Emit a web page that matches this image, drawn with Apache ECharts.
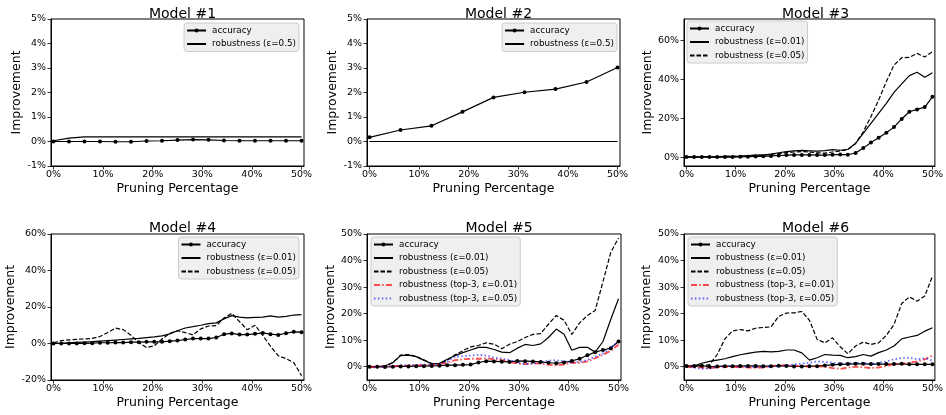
<!DOCTYPE html>
<html><head><meta charset="utf-8">
<script src="https://cdn.jsdelivr.net/npm/echarts@6/dist/echarts.min.js"></script>
<style>html,body{margin:0;padding:0;background:#fff}#c{width:946px;height:415px}</style>
</head><body><div id="c"></div>
<script>
// ---------- DATA ----------
const pct17 = [0,3.125,6.25,9.375,12.5,15.625,18.75,21.875,25,28.125,31.25,34.375,37.5,40.625,43.75,46.875,50];
const pct9 = [0,6.25,12.5,18.75,25,31.25,37.5,43.75,50];
const pct33 = [0,1.5625,3.125,4.6875,6.25,7.8125,9.375,10.9375,12.5,14.0625,15.625,17.1875,18.75,20.3125,21.875,23.4375,25,26.5625,28.125,29.6875,31.25,32.8125,34.375,35.9375,37.5,39.0625,40.625,42.1875,43.75,45.3125,46.875,48.4375,50];
const xTickValues = [0,10,20,30,40,50];

const m1Accuracy = [0,0,0,0,-0.01,-0.01,0.02,0.03,0.06,0.08,0.07,0.04,0.03,0.03,0.03,0.03,0.03];
const m1Robust05 = [0.03,0.14,0.19,0.19,0.19,0.19,0.19,0.19,0.19,0.19,0.19,0.19,0.19,0.19,0.19,0.19,0.19];

const m2Accuracy = [0.17,0.47,0.64,1.21,1.8,2.01,2.14,2.43,3.02];
const m2Robust05 = [0,0,0,0,0,0,0,0,0];

const m3Accuracy = [0,0,0,0,0,0,0,0.1,0.2,0.3,0.4,0.6,0.8,1.0,1.1,1.1,1.1,1.0,1.0,1.2,1.3,1.2,2.1,4.6,7.5,9.9,12.5,15.4,19.6,23.3,24.5,25.7,31.0];
const m3Robust001 = [0.1,0.1,0.2,0.2,0.2,0.3,0.3,0.5,0.8,1.0,1.0,1.5,2.2,2.8,3.2,3.4,3.2,3.0,3.3,3.8,3.5,4.0,7.0,12.2,17.3,22.5,27.6,33.3,37.6,41.9,43.6,41.0,43.4];
const m3Robust005 = [0.1,0.1,0.2,0.2,0.2,0.3,0.3,0.5,0.7,0.9,1.0,1.5,1.8,2.3,2.6,2.8,2.6,2.2,2.0,2.6,3.2,3.8,7.0,13.0,20.8,29.3,38.8,47.3,51.1,51.3,53.3,51.5,54.2];

const m4Accuracy = [0,0,0,0,0.1,0.2,0.4,0.4,0.5,0.5,0.7,0.7,0.9,0.9,0.9,1.3,1.6,2.2,2.7,2.7,2.7,3.3,5.1,5.5,4.9,4.9,5.3,5.8,5.1,4.7,5.6,6.4,6.2];
const m4Robust001 = [0,0.2,0.4,0.6,0.8,1.0,1.3,1.6,1.9,2.2,2.5,2.8,3.2,3.6,4.2,5.3,7.0,8.5,9.2,10.0,10.9,11.3,13.5,15.3,14.5,14.0,14.3,14.5,15.1,14.5,14.9,15.6,15.8];
const m4Robust005 = [0.3,1.6,2.0,2.3,2.5,2.8,3.8,6.0,8.4,7.6,4.5,0.5,-2.2,-1.3,2.5,5.5,7.0,6.0,4.7,8.0,9.6,9.8,14.0,16.5,12.0,7.5,10.0,4.5,-1.5,-6.7,-8.3,-10.5,-17.6];

const m5Accuracy = [0,0,-0.1,0,0.1,0.1,0.2,0.2,0.3,0.4,0.6,0.6,0.7,0.8,1.6,2.1,2.0,1.9,1.8,2.2,2.1,2.0,1.8,1.5,1.3,1.6,2.2,3.0,4.3,5.5,6.3,7.0,9.5];
const m5Robust001 = [0,0,0.3,1.5,4.2,4.4,3.8,2.4,1.1,1.3,2.8,4.2,5.3,6.3,7.3,7.3,6.5,5.5,5.3,7.0,8.4,8.0,8.6,11.0,14.2,12.2,6.2,7.3,7.3,5.5,9.5,17.8,25.6];
const m5Robust005 = [0,0,0.3,1.6,4.4,4.6,3.9,2.6,1.2,1.1,2.5,4.5,6.0,7.5,8.0,9.0,8.5,6.8,8.5,9.5,11.0,12.2,12.5,16.0,19.3,17.5,12.2,16.5,19.3,21.2,32.0,43.0,48.5];
const m5Top3001 = [0,0,0.1,0.2,0.3,0.4,0.5,0.6,0.7,1.0,1.5,2.5,2.8,3.0,3.0,3.2,2.8,2.5,1.8,1.2,1.0,1.3,1.2,0.8,0.5,0.8,1.5,1.5,2.0,3.2,4.5,6.0,8.3];
const m5Top3005 = [-0.2,-0.2,0,0.3,0.5,0.6,0.7,0.8,0.8,1.2,2.0,3.8,4.0,4.2,4.5,4.2,3.5,3.0,2.5,1.5,1.0,1.2,1.6,2.3,2.5,2.0,1.6,1.8,2.5,3.8,5.0,7.2,9.5];

const m6Accuracy = [0.3,0.3,0.4,0.0,0.1,0.2,0.2,0.3,0.3,0.3,0.2,0.2,0.4,0.3,0.1,0.1,0.2,0.2,0.5,0.7,0.9,1.0,1.1,1.1,1.0,1.0,1.0,1.0,1.1,0.9,0.9,0.9,0.9];
const m6Robust001 = [0,0.3,1.3,2.0,2.5,3.0,3.8,4.5,5.0,5.5,5.8,5.6,5.8,6.3,6.3,5.2,2.5,3.4,4.6,4.4,4.3,3.4,3.8,4.6,4.0,5.3,6.3,7.8,10.5,11.2,11.8,13.4,14.7];
const m6Robust005 = [0,0,0.2,0.8,4.6,10.5,13.5,14.0,13.5,14.5,14.8,15.0,19.0,20.2,20.3,20.8,17.5,10.3,9.0,10.9,7.5,4.9,7.8,9.3,8.4,9.0,11.8,15.9,23.8,26.3,24.7,26.6,34.1];
const m6Top3001 = [0,0,-0.3,-0.5,-0.2,0,0,-0.2,-0.3,-0.4,-0.3,0.2,0.5,0.5,0.3,0.2,0.1,0.2,0,-0.5,-0.8,-0.3,0,-0.2,-0.5,-0.3,0.3,1.0,1.2,1.5,2.0,2.8,4.2];
const m6Top3005 = [0,-0.3,-0.8,-0.6,0,0.2,0.2,0,-0.1,-0.2,0,0.1,0.2,0.5,0.8,1.2,1.5,2.0,1.8,1.5,1.2,1.3,1.5,1.4,1.0,1.5,2.0,2.8,3.3,3.4,2.8,3.2,2.3];

const titles = ['Model #1','Model #2','Model #3','Model #4','Model #5','Model #6'];
const yTicks = [[-1,0,1,2,3,4,5],[-1,0,1,2,3,4,5],[0,20,40,60],[-20,0,20,40,60],[0,10,20,30,40,50],[0,10,20,30,40,50]];
const yRanges = [[-1,5],[-1,5],[-4.6,71],[-20,60],[-5,50],[-5,50]];
const N_ACC = 'accuracy', N_R05 = 'robustness (ε=0.5)', N_R001 = 'robustness (ε=0.01)', N_R005 = 'robustness (ε=0.05)',
      N_T001 = 'robustness (top-3, ε=0.01)', N_T005 = 'robustness (top-3, ε=0.05)';

const panels = [
  {x: pct17, lines: [[N_ACC, m1Accuracy, 'acc'], [N_R05, m1Robust05, 'solid']]},
  {x: pct9,  lines: [[N_ACC, m2Accuracy, 'acc'], [N_R05, m2Robust05, 'solid']]},
  {x: pct33, lines: [[N_ACC, m3Accuracy, 'acc'], [N_R001, m3Robust001, 'solid'], [N_R005, m3Robust005, 'dashed']]},
  {x: pct33, lines: [[N_ACC, m4Accuracy, 'acc'], [N_R001, m4Robust001, 'solid'], [N_R005, m4Robust005, 'dashed']]},
  {x: pct33, lines: [[N_ACC, m5Accuracy, 'acc'], [N_R001, m5Robust001, 'solid'], [N_R005, m5Robust005, 'dashed'], [N_T001, m5Top3001, 'dashdot'], [N_T005, m5Top3005, 'dotted']]},
  {x: pct33, lines: [[N_ACC, m6Accuracy, 'acc'], [N_R001, m6Robust001, 'solid'], [N_R005, m6Robust005, 'dashed'], [N_T001, m6Top3001, 'dashdot'], [N_T005, m6Top3005, 'dotted']]}
];

// ---------- LAYOUT / STYLE ----------
const FONT = 'DejaVu Sans';
const grids = [
  {left:51, top:19, width:253, height:147},
  {left:367, top:19, width:253, height:147},
  {left:684, top:19, width:253, height:147},
  {left:51, top:234, width:253, height:146},
  {left:367, top:234, width:254, height:146},
  {left:684, top:234, width:253, height:146}
];
const yNameGap = [27, 27.5, 29.5, 33.5, 29.5, 30.5];
const titleTop = [2, 2, 2, 216, 216, 216];
const legendPos = [
  {right: 647, top: 23}, {right: 329, top: 23}, {left: 687, top: 21},
  {right: 647, top: 237}, {left: 371, top: 237}, {left: 688, top: 237}
];
const styles = {
  acc:     {color:'#000', width:1.2, type:'solid', symbol:'circle', size:4},
  solid:   {color:'#000', width:1.2, type:'solid', symbol:'none'},
  dashed:  {color:'#000', width:1.2, type:[4.5,2], symbol:'none'},
  dashdot: {color:'rgba(255,0,0,0.7)', width:1.8, type:[6,2.2,1.5,2.2], symbol:'none'},
  dotted:  {color:'rgba(0,0,255,0.6)', width:1.8, type:[1.5,2.4], symbol:'none'}
};

const option = {
  animation: false,
  backgroundColor: '#fff',
  textStyle: {fontFamily: FONT},
  title: [], grid: [], xAxis: [], yAxis: [], legend: [], series: []
};

panels.forEach((p, k) => {
  const g = grids[k];
  option.grid.push(Object.assign({show:true, borderColor:'#000', borderWidth:1, backgroundColor:'transparent'}, g));
  option.title.push({
    text: titles[k], left: g.left + g.width/2, top: titleTop[k], textAlign: 'center',
    textStyle: {fontFamily: FONT, fontSize: 14, fontWeight: 'normal', color: '#000'}
  });
  option.xAxis.push({
    type:'value', gridIndex:k, min:-0.5, max:50.5,
    name:'Pruning Percentage', nameLocation:'middle', nameGap:16,
    nameTextStyle:{fontFamily:FONT, fontSize:12.5, color:'#000'},
    axisLine:{show:true, onZero:false, lineStyle:{color:'#000', width:1}},
    axisTick:{show:true, length:3.5, lineStyle:{color:'#000', width:0.8}, customValues:xTickValues},
    axisLabel:{fontFamily:FONT, fontSize:9.5, color:'#000', margin:4, formatter:'{value}%', customValues:xTickValues},
    splitLine:{show:false}
  });
  option.yAxis.push({
    type:'value', gridIndex:k, min:yRanges[k][0], max:yRanges[k][1],
    name:'Improvement', nameLocation:'middle', nameGap:yNameGap[k],
    nameTextStyle:{fontFamily:FONT, fontSize:12.5, color:'#000'},
    axisLine:{show:true, onZero:false, lineStyle:{color:'#000', width:1}},
    axisTick:{show:true, length:3.5, lineStyle:{color:'#000', width:0.8}, customValues:yTicks[k]},
    axisLabel:{fontFamily:FONT, fontSize:9.5, color:'#000', margin:5, formatter:'{value}%', customValues:yTicks[k]},
    splitLine:{show:false}
  });
  const legData = [];
  p.lines.forEach(([name, vals, st]) => {
    const s = styles[st];
    option.series.push({
      type:'line', name, xAxisIndex:k, yAxisIndex:k,
      data: p.x.map((xv, i) => [xv, vals[i]]),
      symbol: s.symbol, symbolSize: s.size || 0, showSymbol: s.symbol !== 'none',
      lineStyle:{color:s.color, width:s.width, type:s.type},
      itemStyle:{color:s.color},
      emphasis:{disabled:true}, silent:true
    });
    legData.push(s.symbol === 'none' ? {name, itemStyle:{opacity:0}} : {name});
  });
  option.legend.push(Object.assign({
    orient:'vertical', data:legData, itemWidth:19, itemHeight:5, itemGap:4.5,
    padding:[3,3,3,2], backgroundColor:'rgba(238,238,238,0.95)', borderColor:'#cccccc', borderWidth:1, borderRadius:3,
    textStyle:{fontFamily:FONT, fontSize:8.8, color:'#000', padding:[0,0,0,1]},
    selectedMode:false
  }, legendPos[k]));
});

const chart = echarts.init(document.getElementById('c'), null, {renderer:'canvas'});
chart.setOption(option);
</script>
</body></html>
